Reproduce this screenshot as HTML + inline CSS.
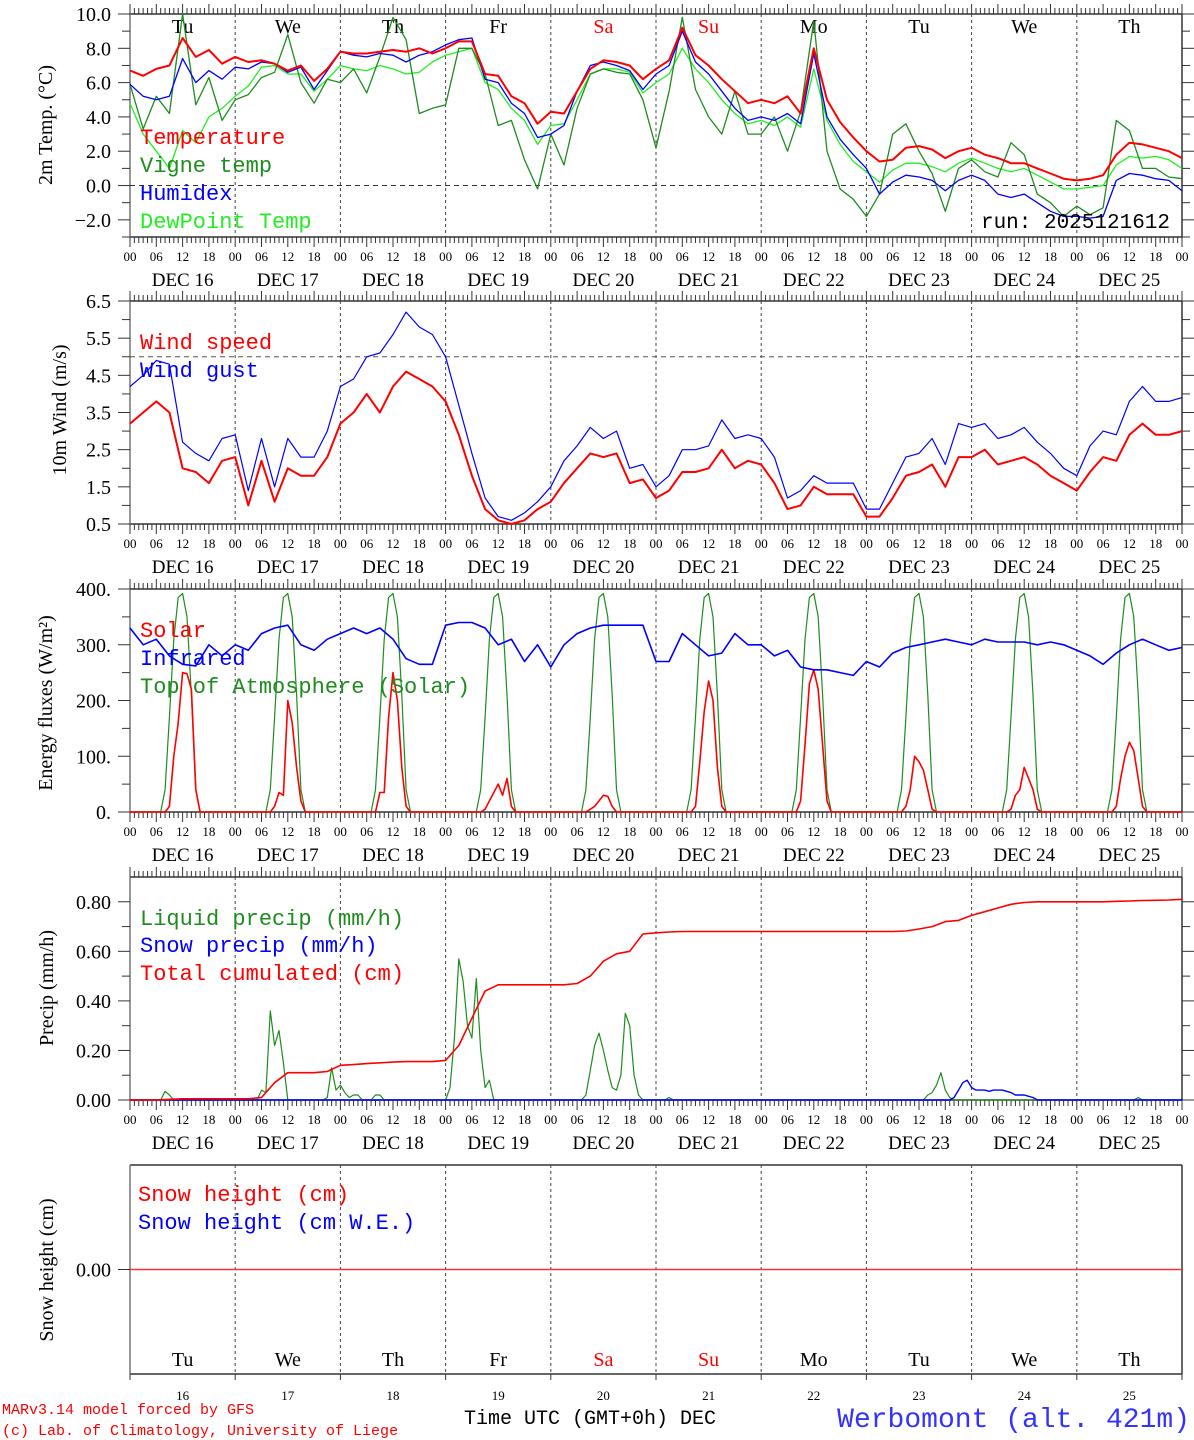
<!DOCTYPE html>
<html><head><meta charset="utf-8">
<style>
html,body{margin:0;padding:0;background:#fff;}
svg{display:block;}
.ax{font-family:"Liberation Serif",serif;}
.mono{font-family:"Liberation Mono",monospace;}
</style></head>
<body>
<svg id="chart" width="1194" height="1440" viewBox="0 0 1194 1440" xmlns="http://www.w3.org/2000/svg"></svg>
<script>
// ---------- DATA (3-hourly, t = 0..240 h) ----------
const dayLabels = ["16","17","18","19","20","21","22","23","24","25"];
const weekDays = ["Tu","We","Th","Fr","Sa","Su","Mo","Tu","We","Th"];
const tempVals = [6.7,6.4,6.8,7.0,8.6,7.5,7.9,7.1, 7.5,7.2,7.3,7.1,6.7,7.0,6.1,6.8, 7.8,7.7,7.7,7.8,7.9,7.8,8.0,7.7, 8.0,8.4,8.4,6.5,6.4,5.2,4.8,3.6, 4.3,4.2,5.5,6.8,7.3,7.2,7.0,6.2, 6.8,7.3,9.2,7.6,7.0,6.2,5.5,4.8, 5.0,4.8,5.2,4.2,8.0,5.0,3.7,2.8, 2.0,1.4,1.5,2.2,2.3,2.1,1.6,2.0, 2.2,1.8,1.6,1.3,1.3,1.0,0.7,0.4, 0.3,0.4,0.6,1.8,2.5,2.4,2.2,2.0,1.6];
const vigneVals = [5.9,3.3,5.2,4.2,10.0,4.7,6.3,3.8, 5.0,5.3,6.3,6.6,8.8,6.0,4.8,6.2, 6.0,6.8,5.4,7.5,9.8,8.5,4.2,4.5, 4.7,8.0,8.0,6.5,3.5,3.8,1.5,-0.2, 3.0,1.2,4.5,6.5,6.8,6.6,6.5,5.0, 2.2,5.5,9.8,5.6,4.0,3.0,5.5,3.0, 3.0,4.0,2.0,4.3,9.6,2.0,-0.2,-0.8, -1.8,-0.5,3.0,3.6,2.0,0.7,-1.5,1.0, 1.5,0.8,0.5,2.5,1.8,-0.5,-1.0,-1.8, -1.2,-1.7,-1.3,3.8,3.2,1.0,1.0,0.5,0.4];
const humidexVals = [5.9,5.2,5.0,5.2,7.4,6.0,6.7,6.2, 6.9,6.8,7.2,7.1,6.6,6.9,5.6,6.7, 7.8,7.6,7.5,7.7,7.6,7.2,7.6,7.8, 8.2,8.5,8.6,6.2,6.0,4.8,4.2,2.8, 3.0,3.5,5.5,7.0,7.2,7.0,6.7,5.6, 6.5,7.0,9.0,7.2,6.5,5.5,4.5,3.8, 4.0,3.8,4.2,3.6,7.7,4.0,2.7,1.8, 1.0,-0.5,0.2,0.6,0.5,0.3,-0.3,0.3, 0.6,0.3,-0.5,-0.7,-0.5,-1.0,-1.5,-1.8, -1.8,-1.9,-1.8,0.3,0.7,0.6,0.4,0.3,-0.3];
const dewVals = [4.8,3.0,2.0,1.0,3.2,2.5,4.0,4.5, 5.2,5.8,6.9,7.0,6.5,6.5,5.5,6.2, 7.0,6.8,6.7,7.0,6.8,6.5,6.6,7.2, 7.6,7.8,8.0,6.0,5.6,4.5,3.8,2.4, 3.5,3.6,5.0,6.5,6.8,6.8,6.6,5.4, 6.0,6.5,8.0,6.8,6.0,5.0,4.2,3.6, 3.8,3.5,4.0,3.4,6.8,3.8,2.4,1.4, 0.8,0.2,0.9,1.3,1.3,1.1,0.8,1.3, 1.6,1.3,1.0,0.8,1.0,0.6,0.2,-0.2, -0.2,-0.1,0.0,1.2,1.7,1.6,1.7,1.5,1.0];
const windVals = [3.2,3.5,3.8,3.5,2.0,1.9,1.6,2.2, 2.3,1.0,2.2,1.1,2.0,1.8,1.8,2.3, 3.2,3.5,4.0,3.5,4.2,4.6,4.4,4.2, 3.8,2.9,1.8,0.9,0.6,0.5,0.6,0.9, 1.1,1.6,2.0,2.4,2.3,2.4,1.6,1.7, 1.2,1.4,1.9,1.9,2.0,2.5,2.0,2.2, 2.1,1.6,0.9,1.0,1.5,1.3,1.3,1.3, 0.7,0.7,1.2,1.8,1.9,2.1,1.5,2.3, 2.3,2.5,2.1,2.2,2.3,2.1,1.8,1.6, 1.4,1.9,2.3,2.2,2.9,3.2,2.9,2.9,3.0];
const gustVals = [4.2,4.5,4.9,4.8,2.7,2.4,2.2,2.8, 2.9,1.4,2.8,1.5,2.8,2.3,2.3,3.0, 4.2,4.4,5.0,5.1,5.6,6.2,5.8,5.6, 5.0,3.7,2.4,1.2,0.7,0.6,0.8,1.1, 1.5,2.2,2.6,3.1,2.8,3.0,2.0,2.1, 1.5,1.8,2.5,2.5,2.6,3.3,2.8,2.9, 2.8,2.3,1.2,1.4,1.8,1.6,1.6,1.6, 0.9,0.9,1.6,2.3,2.4,2.8,2.1,3.2, 3.1,3.2,2.8,2.9,3.1,2.7,2.4,2.0, 1.8,2.6,3.0,2.9,3.8,4.2,3.8,3.8,3.9];
const infraVals = [330,300,310,280,265,262,300,280, 300,290,320,330,335,300,290,310, 320,330,320,330,310,275,265,265, 335,340,340,330,300,310,270,300, 260,300,320,330,335,335,335,335, 270,270,320,300,280,285,320,300, 300,280,290,260,255,255,250,245, 270,260,285,295,300,305,310,305, 300,310,305,305,305,300,305,300, 290,280,265,285,300,310,300,290,295];
// solar hourly values h8..h16 for each day
const solarDays = [[0,10,100,160,250,248,220,40,0],[0,10,35,30,200,160,80,20,0],[0,35,35,170,250,200,80,10,0],[0,5,20,35,50,30,60,10,0],[0,5,10,20,30,28,10,0,0],[0,10,90,180,235,200,80,10,0],[0,20,120,230,255,220,120,20,0],[0,10,40,100,90,75,40,5,0],[0,5,30,40,80,60,40,5,0],[0,10,60,100,125,110,60,10,0]];
// top-of-atmosphere hourly values h7..h16 (same each day)
const toaDay = [0,40,170,310,385,392,350,210,40,0];
const cumVals = [0,0,0,0.003,0.005,0.005,0.005,0.005, 0.005,0.005,0.01,0.07,0.11,0.11,0.11,0.115, 0.14,0.143,0.147,0.15,0.153,0.155,0.155,0.155, 0.16,0.22,0.33,0.44,0.465,0.465,0.465,0.465, 0.465,0.465,0.47,0.50,0.56,0.59,0.60,0.67, 0.675,0.678,0.68,0.68,0.68,0.68,0.68,0.68, 0.68,0.68,0.68,0.68,0.68,0.68,0.68,0.68, 0.68,0.68,0.68,0.682,0.69,0.70,0.72,0.725, 0.745,0.76,0.775,0.79,0.797,0.80,0.80,0.80, 0.80,0.80,0.80,0.802,0.803,0.805,0.806,0.807,0.81];
const liqHours = [8,9,30,31,32,33,34,35,45,46,47,48,49,50,51,52,56,57,73,74,75,76,77,78,79,80,81,82,104,105,106,107,108,109,110,111,112,113,114,115,116,123,182,183,184,185,186,187,230];
const liqVals  = [0.035,0.02,0.04,0.03,0.36,0.22,0.28,0.15,0.01,0.13,0.04,0.06,0.03,0.01,0.02,0.02,0.02,0.02,0.05,0.25,0.57,0.48,0.3,0.25,0.49,0.2,0.05,0.08,0.02,0.12,0.22,0.27,0.2,0.12,0.05,0.04,0.1,0.35,0.3,0.1,0.02,0.01,0.02,0.03,0.06,0.11,0.04,0.01,0.01];
const snowHours = [188,189,190,191,192,193,194,195,196,197,198,199,200,201,202,203,204,205,206];
const snowVals  = [0.01,0.04,0.07,0.08,0.05,0.04,0.04,0.04,0.035,0.04,0.04,0.04,0.035,0.03,0.02,0.02,0.02,0.015,0.01];
const snowHeight = [0,0];

// ---------- LAYOUT ----------
const svg = document.getElementById('chart');
const NS = "http://www.w3.org/2000/svg";
const X0 = 130, X1 = 1182;
const X = t => X0 + t*(X1-X0)/240;
function mk(tag, attrs, parent){ const e=document.createElementNS(NS,tag); for(const k in attrs) e.setAttribute(k,attrs[k]); (parent||svg).appendChild(e); return e; }
function txt(s,x,y,size,fill,anchor,cls,parent){ const e=mk('text',{x:x,y:y,'font-size':size,fill:fill||'#000','text-anchor':anchor||'start','class':cls||'ax'},parent); e.textContent=s; return e; }

const panels = [
 {name:'temperature-panel', top:14, bot:237, min:-3, max:10},
 {name:'wind-panel', top:301, bot:524, min:0.5, max:6.5},
 {name:'energy-panel', top:589, bot:812, min:0, max:400},
 {name:'precip-panel', top:877, bot:1100, min:0, max:0.9},
 {name:'snow-panel', top:1165, bot:1374, min:-1, max:1}
];
panels.forEach(p=>{ p.Y = v => p.bot - (v-p.min)*(p.bot-p.top)/(p.max-p.min); });

function series(vals, p, color, w, name, times){
  const pts = vals.map((v,i)=> X(times?times[i]:i*3).toFixed(1)+','+p.Y(v).toFixed(1)).join(' ');
  const e = mk('polyline',{points:pts,fill:'none',stroke:color,'stroke-width':w,'stroke-linejoin':'round'});
  
  
  return e;
}

panels.forEach((p,pi)=>{
  const g = mk('g',{});
  
  
  mk('line',{x1:X0,y1:p.top,x2:X1,y2:p.top,stroke:'#333','stroke-width':1.5},g);
  mk('line',{x1:X0,y1:p.bot,x2:X1,y2:p.bot,stroke:'#333','stroke-width':1.5},g);
  mk('line',{x1:X0,y1:p.top,x2:X0,y2:p.bot,stroke:'#777','stroke-width':1.5},g);
  mk('line',{x1:X1,y1:p.top,x2:X1,y2:p.bot,stroke:'#333','stroke-width':1.5},g);
  for(let d=1; d<10; d++) mk('line',{x1:X(d*24),y1:p.top,x2:X(d*24),y2:p.bot,stroke:'#444','stroke-width':1,'stroke-dasharray':'3,3'},g);
  if(pi<4){
    for(let h=0; h<=240; h++){
      const len = (h%6===0)?10:6;
      mk('line',{x1:X(h),y1:p.top,x2:X(h),y2:p.top-len,stroke:'#333','stroke-width':1},g);
      mk('line',{x1:X(h),y1:p.bot,x2:X(h),y2:p.bot+len,stroke:'#333','stroke-width':1},g);
    }
    for(let h=0; h<=240; h+=6){
      const hh = h%24; const lab = hh<10?'0'+hh:''+hh;
      txt(lab, X(h), p.bot+24, 13, '#000','middle','ax',g);
    }
    for(let d=0; d<10; d++) txt('DEC  '+dayLabels[d], X(d*24+12), p.bot+49, 19,'#000','middle','ax',g);
  } else {
    for(let d=0; d<=10; d++) mk('line',{x1:X(d*24),y1:p.bot,x2:X(d*24),y2:p.bot+6,stroke:'#333','stroke-width':1},g);
  }
});

// ---------- Y axes ----------
function yaxis(p, minor, major, fmt, from, to, off){
  off = off||0;
  for(let v=from; v<=to+1e-9; v+=minor){
    const r=(v-off)/major;
    const isMaj = Math.abs(Math.round(r)-r) < 1e-6;
    mk('line',{x1:X0,y1:p.Y(v),x2:X0-(isMaj?12:8),y2:p.Y(v),stroke:'#333','stroke-width':1});
    mk('line',{x1:X1,y1:p.Y(v),x2:X1+(isMaj?12:8),y2:p.Y(v),stroke:'#333','stroke-width':1});
    if(isMaj) txt(fmt(v), 111, p.Y(v)+7, 20,'#000','end');
  }
}
yaxis(panels[0],1,2,v=>(v<0?'\u2212'+(-v).toFixed(1):v.toFixed(1)),-3,10);
yaxis(panels[1],0.5,1,v=>v.toFixed(1),0.5,6.5,0.5);
yaxis(panels[2],50,100,v=>v.toFixed(0)+'.',0,400);
yaxis(panels[3],0.1,0.2,v=>v.toFixed(2),0,0.8);
mk('line',{x1:X0,y1:panels[4].Y(0),x2:X0-12,y2:panels[4].Y(0),stroke:'#333','stroke-width':1});
txt('0.00',111,panels[4].Y(0)+7,20,'#000','end');

function ytitle(s,x,y,size,name){
  const e = txt(s,x,y,size,'#000','middle');
  e.setAttribute('transform','rotate(-90 '+x+' '+y+')');
  
  
}
ytitle('2m Temp. (\u00B0C)',52,125,20,'temp-axis-title');
ytitle('10m Wind (m/s)',66,410,20,'wind-axis-title');
ytitle('Energy fluxes (W/m\u00B2)',52,703,20,'energy-axis-title');
ytitle('Precip (mm/h)',53,988,20,'precip-axis-title');
ytitle('Snow height (cm)',53,1270,20,'snow-axis-title');

mk('line',{x1:X0,y1:panels[0].Y(0),x2:X1,y2:panels[0].Y(0),stroke:'#333','stroke-width':1,'stroke-dasharray':'5,4'});
mk('line',{x1:X0,y1:panels[1].Y(5),x2:X1,y2:panels[1].Y(5),stroke:'#555','stroke-width':1,'stroke-dasharray':'5,4'});

weekDays.forEach((d,i)=>{
  const c = (i===4||i===5)?'#ff0000':'#000';
  txt(d, X(i*24+12), 33, 20, c,'middle');
  txt(d, X(i*24+12), 1366, 20, c,'middle');
  txt(dayLabels[i], X(i*24+12), 1400, 13, '#000','middle');
});

// ---------- SERIES ----------
const P=panels;
series(dewVals,P[0],'#22ee22',1.3,'dewpoint-line');
series(vigneVals,P[0],'#1e8c1e',1.3,'vigne-temp-line');
series(humidexVals,P[0],'#0000ff',1.3,'humidex-line');
series(tempVals,P[0],'#ff0000',2,'temperature-line');

series(gustVals,P[1],'#0000ff',1.2,'wind-gust-line');
series(windVals,P[1],'#ff0000',2,'wind-speed-line');

const hrs=[], toaH=[], solH=[];
for(let h=0; h<=240; h++){
  hrs.push(h);
  const d=Math.floor(h/24), hh=h%24;
  toaH.push((hh>=7 && hh<=16 && d<10)? toaDay[hh-7] : 0);
  solH.push((hh>=8 && hh<=16 && d<10)? solarDays[d][hh-8] : 0);
}
series(toaH,P[2],'#1e8c1e',1.2,'toa-solar-line',hrs);
series(solH,P[2],'#ff0000',1.6,'solar-line',hrs);
series(infraVals,P[2],'#0000ff',1.6,'infrared-line');

const liqH=[], snH=[];
for(let h=0; h<=240; h++){
  const a=liqHours.indexOf(h); liqH.push(a>=0?liqVals[a]:0);
  const b=snowHours.indexOf(h); snH.push(b>=0?snowVals[b]:0);
}
series(liqH,P[3],'#1e8c1e',1.2,'liquid-precip-line',hrs);
series(snH,P[3],'#0000ff',1.4,'snow-precip-line',hrs);
series(cumVals,P[3],'#ff0000',1.6,'cumulated-precip-line');

series(snowHeight,P[4],'#ff3333',1.6,'snow-height-line',[0,240]);

// ---------- LEGENDS ----------
function leg(s,x,y,c,name){ const e=txt(s,x,y,22,c,'start','mono');   }
leg('Temperature',140,144,'#ff0000','legend-temperature');
leg('Vigne temp',140,172,'#1e8c1e','legend-vigne-temp');
leg('Humidex',140,200,'#0000ff','legend-humidex');
leg('DewPoint Temp',140,228,'#22ee22','legend-dewpoint');
leg('Wind speed',140,349,'#ff0000','legend-wind-speed');
leg('Wind gust',140,377,'#0000ff','legend-wind-gust');
leg('Solar',140,637,'#ff0000','legend-solar');
leg('Infrared',140,665,'#0000ff','legend-infrared');
leg('Top of Atmosphere (Solar)',140,693,'#1e8c1e','legend-toa');
leg('Liquid precip (mm/h)',140,925,'#1e8c1e','legend-liquid-precip');
leg('Snow precip (mm/h)',140,952,'#0000ff','legend-snow-precip');
leg('Total cumulated (cm)',140,980,'#ff0000','legend-total-cumulated');
leg('Snow height (cm)',138,1201,'#ff0000','legend-snow-height');
leg('Snow height (cm W.E.)',138,1229,'#0000ff','legend-snow-we');

let e;
e=txt('run: 2025121612',1170,228,21,'#000','end','mono');  
e=txt('Time UTC (GMT+0h) DEC',590,1424,20,'#000','middle','mono');  
e=txt('MARv3.14 model forced by GFS',2,1414,15,'#ff0000','start','mono');  
e=txt('(c) Lab. of Climatology, University of Liege',2,1435,15,'#ff0000','start','mono');  
e=txt('Werbomont (alt. 421m)',1190,1427,28,'#3333ff','end','mono');  
</script>
</body></html>
